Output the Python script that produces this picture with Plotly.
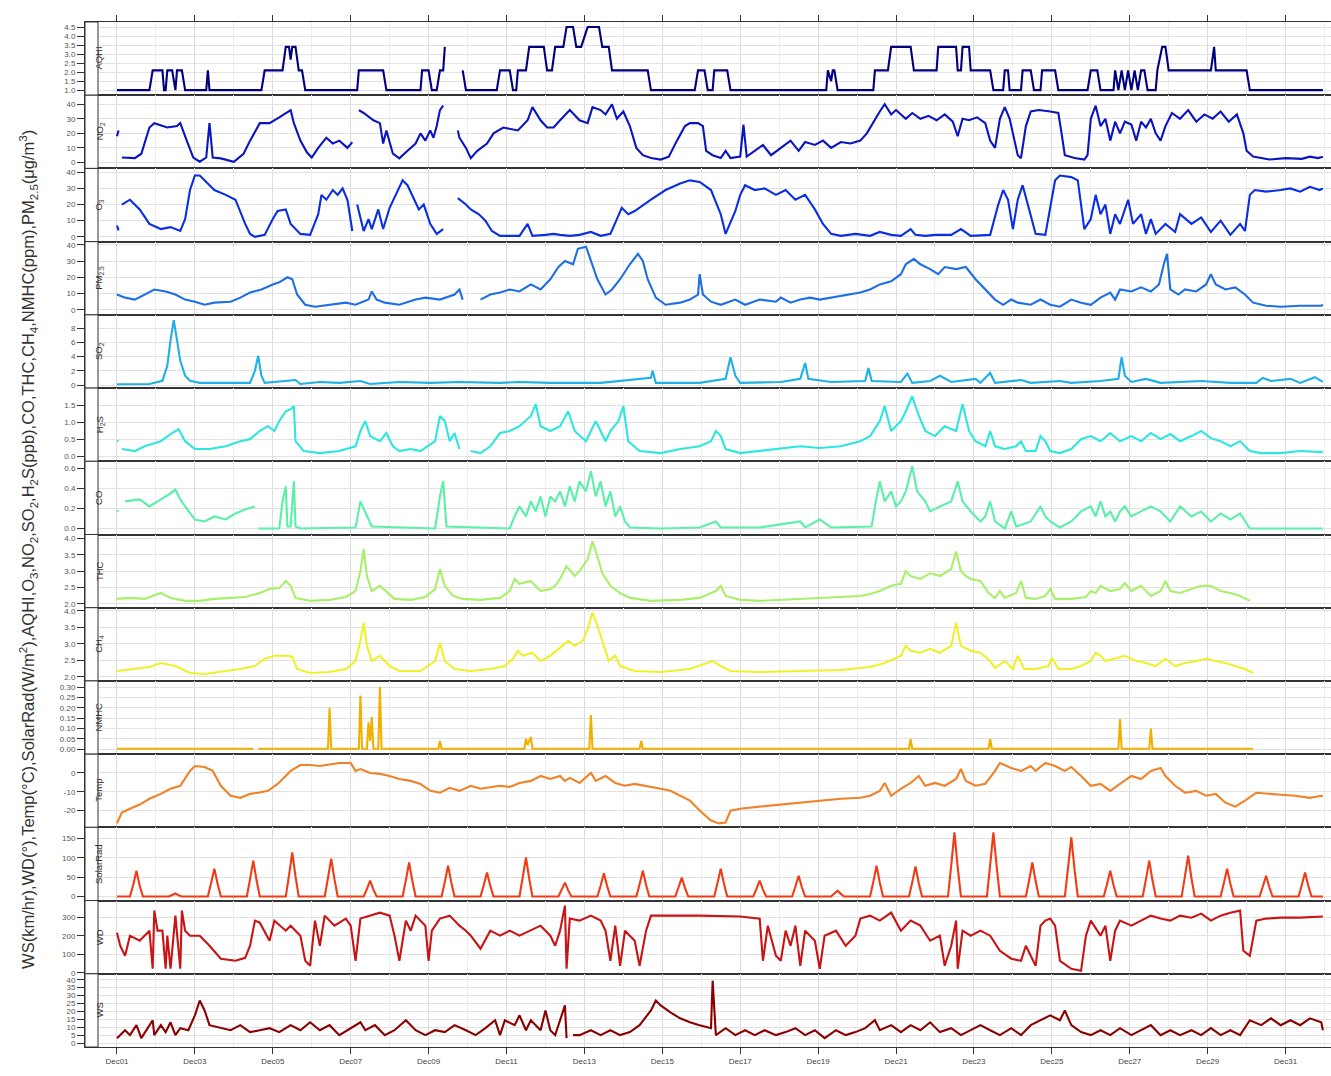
import pandas as pd
import plotly.graph_objects as go
from plotly.subplots import make_subplots

START = pd.Timestamp("2012-12-01 00:00")

# ---- data: (hour since Dec01 00:00, value); None = missing ----
aqhi = [(0,1),(20,1),(22,2.1),(28,2.1),(29,1),(30,1),(31,2.1),(34,2.1),(36,1),(37,2.1),(40,2.1),(42,1),(55,1),(56,2.1),(57,1),
        (89,1),(91,2.1),(102,2.1),(104,3.4),(106,3.4),(107,2.7),(108,3.4),(110,3.4),(112,2.1),(114,2.1),(116,1),(148,1),(149,2.1),
        (164,2.1),(166,1),(187,1),(188,2.1),(192,2.1),(194,1),(197,1),(199,2.1),(201,2.1),(202,3.4),(205,None),(213,2.1),(215,1),
        (234,1),(236,2.1),(242,2.1),(244,1),(246,1),(247,2.1),(252,2.1),(254,3.4),(263,3.4),(265,2.1),(268,2.1),(270,3.4),(275,3.4),
        (277,4.5),(281,4.5),(283,3.4),(286,3.4),(290,4.5),(297,4.5),(299,3.4),(303,3.4),(305,2.1),(327,2.1),(329,1),(356,1),(358,2.1),
        (362,2.1),(364,1),(367,1),(368,2.1),(376,2.1),(378,1),(437,1),(438,2.1),(440,1.5),(441,2.1),(442,2.1),(444,1),(466,1),(467,2.1),
        (475,2.1),(477,3.4),(489,3.4),(491,2.1),(505,2.1),(506,3.4),(517,3.4),(518,2.1),(520,2.1),(521,3.4),(525,3.4),(526,2.1),(538,2.1),
        (540,1),(546,1),(547,2.1),(549,2.1),(550,1),(557,1),(558,2.1),(563,2.1),(565,1),(569,1),(570,2.1),(578,2.1),(580,1),(598,1),
        (600,2.1),(604,2.1),(606,1),(614,1),(615,2.1),(617,1),(619,2.1),(621,1),(623,2.1),(625,1),(627,2.1),(629,1),(631,2.1),(633,2.1),
        (635,1),(640,1),(641,2.1),(644,3.4),(646,3.4),(648,2.1),(674,2.1),(676,3.4),(677,2.1),(696,2.1),(698,1),(743,1)]

no2 = [(0,18),(1,22),(2,None),(3,3.4),(11,3),(15,6),(17,13),(20,24),(23,27),(31,24),(37,25),(39,27),(43,15),(47,3.4),(51,0.5),(55,3.4),
       (57,27),(59,3.4),(64,2.8),(72,0.5),(78,6),(82,15),(88,27),(94,27),(100,31),(107,36),(109,27),(113,15),(117,7),(120,3.4),(124,10),
       (129,17),(133,13),(137,15),(142,10),(145,14),(146,None),(149,36),(152,34),(158,29),(162,27),(164,13),(166,22),(170,6),(174,2.8),
       (179,8),(184,13),(187,20),(190,15),(193,22),(195,17),(197,25),(199,36),(201,39),(204,None),(210,22),(211,17),(215,10),(218,3),
       (222,8),(228,13),(232,20),(238,24),(247,22),(253,29),(256,38),(261,29),(265,24),(269,24),(273,29),(279,36),(285,29),(290,27),
       (293,38),(298,36),(301,33),(305,40),(308,30),(312,35),(316,25),(320,10),(324,5),(329,3),(335,2),(340,4),(345,15),(350,25),(353,27),
       (358,27),(361,25),(363,8),(367,5),(372,3),(375,8),(378,3),(384,4),(386,26),(388,4),(393,8),(398,12),(403,5),(409,10),(415,15),
       (420,8),(424,14),(430,12),(435,15),(440,10),(446,14),(452,13),(458,15),(462,20),(466,28),(470,35),(473,40),(477,33),(480,36),
       (486,30),(490,34),(495,30),(500,32),(505,29),(510,33),(515,28),(518,18),(521,30),(525,29),(530,31),(535,27),(538,15),(541,10),
       (544,30),(547,38),(550,30),(552,20),(555,5),(557,3),(560,25),(563,35),(568,36),(575,35),(580,34),(582,20),(584,5),(590,3),(596,2),
       (598,5),(600,30),(603,39),(606,25),(609,30),(612,15),(615,28),(618,20),(621,28),(625,26),(628,15),(631,28),(634,24),(637,30),
       (640,20),(643,15),(646,25),(650,34),(655,30),(660,36),(665,28),(670,33),(675,30),(680,35),(685,28),(690,33),(694,20),(696,8),
       (700,4),(710,2),(720,3),(730,2.5),(735,4),(740,3),(743,4)]

o3 = [(0,7),(1,4),(2,None),(3,20),(8,23),(14,17),(20,8),(27,4.8),(33,6),(39,3.6),(42,11),(45,29),(48,38),(51,38),(54,35),(60,29),(67,26),
      (73,23),(79,8),(82,1.8),(85,0),(91,1.2),(96,11),(99,16),(104,17),(107,8),(113,1.8),(119,1.2),(124,14),(126,26),(129,23),(133,29),
      (136,26),(139,30),(142,23),(145,3.6),(146,None),(148,20),(152,3.6),(155,11),(157,4.8),(161,17),(164,4.8),(168,18),(173,29),(176,35),
      (179,32),(182,26),(186,17),(189,20),(193,8),(197,1.8),(201,4.8),(205,None),(210,24),(215,20),(218,17),(223,14),(227,10),(231,3.6),
      (236,0.6),(242,0.6),(248,0.6),(253,8),(256,0.6),(264,1.2),(269,1.8),(273,1.2),(279,0.6),(285,1.2),(292,3),(298,0.6),(304,1.8),
      (308,11),(311,18),(315,14),(319,16),(329,23),(338,29),(347,33),(353,35),(359,34),(366,29),(372,14),(375,1.8),(381,16),(384,26),
      (387,32),(393,29),(399,30),(406,26),(412,29),(418,23),(424,26),(430,17),(435,8),(440,1.8),(446,0.6),(455,1.8),(464,0.6),(470,3),
      (477,1.2),(483,0.6),(489,4.8),(492,1.2),(498,0.6),(504,1.2),(514,1.2),(520,4.8),(526,0.6),(538,1.2),(543,20),(546,29),(549,23),
      (552,4.8),(555,23),(558,32),(562,17),(566,1.8),(572,1.2),(578,35),(581,38),(588,37),(592,35),(596,4.8),(600,11),(603,26),(606,14),
      (609,20),(612,1.8),(615,14),(618,8),(623,23),(626,8),(631,14),(634,1.8),(637,11),(640,1.8),(646,8),(652,3),(655,14),(662,8),
      (668,12),(674,3),(680,10),(686,1.2),(692,8),(695,3.6),(698,26),(701,29),(708,28),(717,29),(723,30),(729,28),(735,31),(741,29),(743,30)]

pm25 = [(0,9.4),(5,7.5),(11,6.3),(17,9.4),(23,12.5),(30,11.3),(36,9.4),(42,6.3),(48,5),(54,3.1),(60,4.4),(70,5),(76,7.5),(82,10.6),
        (89,12.5),(96,15.6),(100,16.9),(105,20),(108,18.8),(111,9.4),(116,3.1),(122,1.9),(131,3.1),(141,4.4),(147,3.1),(155,6.3),
        (157,11.3),(160,6.3),(165,4.4),(174,3.1),(184,6.3),(190,7.5),(199,6.3),(208,9.4),(211,12.5),(213,6.3),(216,None),(224,6.3),
        (230,9.4),(236,10.6),(242,12.5),(248,11.3),(255,15.6),(261,12.5),(267,18.8),(272,26.3),(276,30),(281,28),(284,37.5),(289,38.8),
        (292,30),(296,18.8),(301,9.4),(305,12.5),(310,18.8),(316,28),(321,34.4),(324,30),(327,18.8),(332,7.5),(338,3.1),(347,4.4),
        (353,6.3),(358,9.4),(359,21.9),(361,9.4),(366,5),(372,3.1),(381,6.3),(387,3.1),(396,6.3),(406,5),(409,7.5),(415,4.4),(421,6.3),
        (427,7.5),(433,6.3),(440,7.5),(446,8.8),(452,10),(458,10.6),(464,12.5),(470,15.6),(477,17.5),(483,21.9),(486,28),(491,31.3),
        (495,28),(501,25),(506,21.9),(510,26.3),(517,25),(523,26.3),(529,18.8),(535,12.5),(541,6.3),(546,3.1),(551,6.3),(555,4.4),
        (563,3.1),(569,6.3),(575,3.1),(581,1.9),(588,6.3),(594,4.4),(600,3.1),(606,7.5),(612,10.6),(615,6.3),(618,12.5),(625,11.3),
        (631,13.8),(637,11.3),(642,15.6),(645,28),(647,34.4),(649,12.5),(654,9.4),(658,12.5),(665,11.3),(671,15.6),(674,21.9),
        (677,15.6),(683,12.5),(689,13.8),(695,9.4),(700,4.4),(708,2.5),(717,1.9),(729,2.5),(742,2.5),(743,3.1)]

so2 = [(0,0.1),(20,0.15),(28,0.6),(31,2.7),(33,6.3),(35,9.1),(37,6.3),(39,3.4),(42,1.3),(45,0.6),(51,0.3),(82,0.3),(85,2),(87,4.1),
       (89,1.3),(91,0.3),(110,0.7),(113,0.14),(125,0.43),(137,0.3),(150,0.57),(156,0.14),(174,0.43),(193,0.3),(211,0.43),(236,0.3),
       (248,0.43),(267,0.3),(298,0.3),(329,1),(330,2),(332,0.3),(359,0.3),(375,0.86),(378,3.9),(381,1.3),(384,0.3),(409,0.43),(421,0.86),
       (424,3.1),(426,0.86),(440,0.43),(461,0.57),(463,2.4),(465,0.57),(483,0.43),(487,1.6),(490,0.3),(501,0.57),(507,1.3),(514,0.43),
       (529,0.86),(532,0.3),(538,1.7),(541,0.3),(557,0.7),(563,0.3),(581,0.57),(588,0.3),(606,0.57),(617,0.86),(619,3.9),(621,1.3),
       (625,0.43),(634,0.86),(643,0.3),(668,0.57),(686,0.3),(702,0.3),(706,1),(711,0.57),(723,0.86),(729,0.3),(738,1.1),(743,0.43)]

h2s = [(0,0.44),(1,0.45),(2,None),(3,0.21),(11,0.15),(17,0.29),(27,0.44),(34,0.68),(38,0.79),(42,0.44),(48,0.21),(57,0.21),(67,0.29),
       (76,0.44),(82,0.5),(88,0.74),(93,0.88),(97,0.74),(100,1.03),(104,1.32),(107,1.38),(109,1.47),(110,0.44),(115,0.15),(125,0.09),
       (137,0.15),(147,0.29),(150,0.74),(153,1.03),(156,0.59),(162,0.44),(166,0.68),(170,0.29),(174,0.15),(181,0.21),(187,0.15),
       (196,0.44),(199,1.18),(202,1.03),(205,0.44),(208,0.68),(211,0.21),(215,None),(218,0.15),(224,0.09),(230,0.29),(236,0.68),
       (242,0.74),(248,0.88),(255,1.18),(258,1.53),(261,0.88),(267,0.74),(273,0.88),(278,1.32),(282,0.74),(289,0.44),(292,0.74),
       (295,1.03),(298,0.74),(301,0.44),(304,0.74),(309,1.03),(312,1.47),(315,0.44),(322,0.15),(335,0.09),(347,0.21),(359,0.29),
       (366,0.44),(369,0.74),(372,0.59),(375,0.21),(384,0.09),(396,0.15),(409,0.21),(421,0.29),(433,0.24),(446,0.29),(458,0.44),
       (464,0.59),(470,1.03),(473,1.47),(477,0.74),(483,1.03),(486,1.32),(490,1.76),(493,1.32),(498,0.74),(504,0.59),(510,0.88),
       (517,0.74),(521,1.53),(525,0.74),(529,0.44),(535,0.29),(538,0.74),(541,0.29),(547,0.21),(554,0.29),(557,0.44),(560,0.15),
       (566,0.15),(569,0.59),(572,0.44),(575,0.15),(581,0.09),(588,0.21),(594,0.5),(600,0.59),(606,0.44),(612,0.68),(618,0.44),
       (625,0.59),(631,0.44),(637,0.68),(643,0.5),(649,0.65),(655,0.44),(662,0.59),(668,0.74),(674,0.53),(680,0.44),(686,0.29),
       (692,0.44),(698,0.15),(705,0.09),(717,0.09),(729,0.15),(743,0.12)]

co = [(0,0.17),(1,0.18),(2,None),(5,0.27),(14,0.29),(20,0.22),(27,0.29),(33,0.35),(36,0.39),(39,0.29),(42,0.22),(48,0.09),(54,0.07),
      (60,0.12),(67,0.09),(73,0.15),(79,0.19),(85,0.22),(86,None),(87,0.0),(100,0.0),(102,0.27),(104,0.42),(105,0.02),(107,0.02),
      (109,0.47),(110,0.02),(113,0.0),(147,0.01),(150,0.27),(153,0.17),(157,0.02),(196,0.0),(199,0.32),(201,0.47),(203,0.02),(242,0.0),
      (245,0.12),(248,0.22),(252,0.12),(255,0.27),(258,0.17),(261,0.32),(264,0.12),(267,0.32),(270,0.27),(273,0.37),(276,0.22),
      (279,0.42),(282,0.27),(285,0.47),(289,0.37),(292,0.57),(295,0.32),(298,0.47),(301,0.22),(304,0.37),(307,0.12),(310,0.22),
      (313,0.07),(316,0.01),(335,0.0),(359,0.01),(369,0.07),(372,0.01),(396,0.01),(421,0.07),(424,0.01),(433,0.09),(440,0.01),
      (465,0.02),(467,0.22),(470,0.47),(473,0.27),(477,0.37),(480,0.22),(483,0.27),(486,0.37),(490,0.62),(493,0.37),(498,0.27),
      (501,0.17),(507,0.22),(514,0.27),(518,0.47),(521,0.27),(526,0.17),(532,0.07),(535,0.12),(538,0.27),(541,0.07),(547,0.0),
      (551,0.17),(554,0.02),(563,0.07),(569,0.22),(572,0.12),(575,0.07),(581,0.01),(588,0.07),(594,0.17),(600,0.22),(603,0.12),
      (606,0.27),(609,0.12),(612,0.17),(615,0.07),(618,0.17),(621,0.22),(625,0.12),(631,0.17),(637,0.22),(643,0.17),(649,0.07),
      (655,0.22),(662,0.12),(668,0.17),(674,0.07),(680,0.15),(686,0.09),(692,0.15),(695,0.07),(698,0.0),(743,0.0)]

thc = [(0,2.15),(8,2.18),(17,2.15),(23,2.27),(27,2.33),(33,2.18),(42,2.09),(51,2.09),(60,2.15),(70,2.18),(79,2.21),(88,2.33),(94,2.45),
       (100,2.48),(104,2.7),(107,2.55),(110,2.18),(119,2.09),(131,2.12),(141,2.21),(147,2.39),(150,3.0),(152,3.67),(154,2.85),(157,2.39),
       (162,2.55),(167,2.33),(171,2.15),(181,2.12),(190,2.21),(196,2.45),(199,3.06),(202,2.55),(207,2.24),(213,2.15),(224,2.12),
       (236,2.18),(242,2.39),(245,2.76),(248,2.61),(255,2.7),(261,2.39),(267,2.45),(270,2.55),(273,2.76),(277,3.15),(282,2.85),(285,3.0),
       (290,3.36),(293,3.91),(296,3.45),(299,2.94),(304,2.55),(310,2.33),(316,2.18),(329,2.09),(347,2.12),(359,2.18),(369,2.39),
       (372,2.55),(375,2.24),(384,2.12),(396,2.09),(409,2.12),(421,2.15),(433,2.18),(446,2.21),(458,2.24),(464,2.3),(470,2.39),
       (477,2.55),(483,2.61),(486,3.0),(489,2.85),(495,2.76),(501,2.94),(507,2.85),(514,3.06),(517,3.6),(520,3.0),(523,2.85),(526,2.76),
       (532,2.7),(537,2.33),(541,2.18),(544,2.39),(547,2.18),(554,2.33),(557,2.7),(560,2.18),(566,2.15),(572,2.24),(575,2.45),
       (578,2.15),(588,2.15),(597,2.21),(600,2.39),(603,2.33),(606,2.55),(612,2.39),(618,2.45),(621,2.64),(625,2.39),(631,2.55),
       (637,2.24),(643,2.39),(646,2.7),(649,2.39),(655,2.33),(662,2.45),(668,2.55),(674,2.55),(680,2.39),(686,2.33),(692,2.24),(698,2.09)]

ch4 = [(0,2.18),(11,2.24),(20,2.3),(27,2.42),(36,2.33),(45,2.12),(54,2.09),(67,2.18),(76,2.24),(85,2.33),(91,2.55),(97,2.64),(104,2.64),
       (108,2.61),(111,2.24),(119,2.12),(131,2.15),(141,2.24),(147,2.48),(150,3.09),(152,3.64),(154,2.94),(157,2.48),(162,2.64),
       (168,2.33),(174,2.18),(187,2.18),(196,2.48),(199,3.03),(202,2.48),(208,2.24),(218,2.18),(230,2.24),(239,2.33),(244,2.55),
       (247,2.79),(250,2.64),(256,2.73),(261,2.48),(267,2.64),(274,2.94),(278,3.09),(282,2.94),(287,3.09),(290,3.45),(293,3.94),
       (296,3.55),(300,2.94),(303,2.48),(307,2.64),(310,2.33),(319,2.18),(335,2.15),(353,2.24),(362,2.39),(367,2.48),(372,2.33),
       (378,2.18),(396,2.15),(421,2.18),(446,2.21),(464,2.3),(473,2.42),(483,2.64),(486,2.94),(489,2.79),(495,2.73),(501,2.85),
       (507,2.73),(514,2.94),(517,3.64),(520,2.94),(526,2.79),(532,2.73),(538,2.48),(541,2.27),(547,2.48),(552,2.24),(555,2.64),
       (559,2.24),(566,2.24),(574,2.33),(576,2.58),(580,2.24),(588,2.24),(594,2.33),(600,2.48),(603,2.73),(606,2.64),(609,2.48),
       (615,2.55),(621,2.64),(628,2.48),(634,2.42),(640,2.33),(646,2.55),(652,2.33),(658,2.42),(665,2.48),(671,2.55),(677,2.48),
       (683,2.42),(689,2.33),(695,2.24),(700,2.12)]

nmhc = [(0,0.002),(84,0.002),(85,None),(87,0.002),(130,0.002),(131,0.2),(132,0.002),(149,0.002),(150,0.26),(151,0.002),(154,0.002),
        (155,0.13),(156,0.04),(157,0.155),(158,0.002),(161,0.002),(162,0.30),(163,0.002),(198,0.002),(199,0.04),(200,0.002),(251,0.002),
        (252,0.05),(253,0.02),(255,0.06),(256,0.002),(291,0.002),(292,0.165),(293,0.002),(322,0.002),(323,0.04),(324,0.002),(488,0.002),
        (489,0.05),(490,0.002),(537,0.002),(538,0.05),(539,0.002),(617,0.002),(618,0.145),(619,0.002),(636,0.002),(637,0.1),(638,0.002),
        (700,0.002)]

temp = [(0,-26.8),(3,-21),(8,-19),(14,-16.8),(20,-13.7),(27,-11.1),(33,-8.4),(39,-6.8),(45,1.1),(48,3.7),(54,3.2),(59,1.1),(64,-6.8),
        (70,-12.1),(76,-13.2),(82,-11.1),(87,-10.5),(93,-9.5),(99,-5.8),(107,1.1),(113,4.2),(119,4.2),(125,3.7),(131,4.7),(137,5.3),
        (144,5.3),(147,1.1),(150,2.1),(156,0),(162,-0.5),(168,-1.6),(174,-3.2),(181,-4.2),(187,-5.8),(193,-9.5),(199,-10.5),(205,-7.9),
        (211,-9.5),(218,-6.8),(224,-8.4),(230,-7.4),(236,-6.8),(242,-7.4),(248,-5.3),(255,-4.2),(261,-1.6),(267,-3.2),(273,-1.6),
        (276,-4.2),(279,-2.6),(285,-5.3),(292,0),(295,-4.2),(301,-1.6),(307,-5.3),(313,-6.8),(319,-5.8),(326,-6.8),(335,-8.4),
        (341,-9.5),(347,-12.1),(353,-14.7),(359,-20),(366,-25.3),(371,-26.8),(375,-26.3),(378,-20),(384,-19),(396,-17.9),(409,-16.8),
        (421,-15.8),(433,-14.7),(446,-13.7),(458,-13.2),(464,-12.1),(470,-9.5),(473,-5.3),(477,-12.1),(483,-8.4),(489,-5.3),(494,-1.6),
        (498,-6.8),(504,-5.3),(510,-6.8),(517,-3.2),(520,2.1),(523,-4.2),(529,-6.8),(535,-5.8),(541,1.1),(544,5.3),(551,2.6),(557,1.1),
        (563,3.7),(566,1.1),(572,5.3),(578,3.7),(584,1.1),(588,3.2),(594,-1.6),(600,-6.8),(606,-5.8),(612,-9.5),(618,-5.8),(625,-1.6),
        (631,-3.2),(637,1.1),(643,2.6),(646,-1.6),(652,-6.8),(658,-10.5),(665,-9.5),(671,-12.1),(677,-11.1),(683,-15.8),(689,-17.9),
        (695,-14.7),(702,-10.5),(708,-11.1),(717,-11.6),(726,-12.1),(735,-13.2),(742,-12.1),(743,-12.6)]

# solar radiation: daily readings at 10h, 12h, 14h (zero overnight, 8h and 16h)
solar_am   = [30, 4, 35, 45, 55, 48, 20, 42, 38, 30, 50, 18, 28, 32, 24, 35, 20, 26, 8, 38, 37, 80, 82, 42, 75, 32, 45, 52, 35, 26, 30]
solar_noon = [67, 8, 72, 93, 114, 98, 41, 88, 80, 62, 101, 36, 60, 67, 49, 72, 41, 54, 15, 80, 78, 166, 166, 88, 153, 67, 93, 106, 72, 54, 62]
solar_pm   = [28, 3, 33, 42, 52, 45, 18, 40, 36, 28, 46, 16, 27, 30, 22, 33, 18, 24, 7, 36, 35, 76, 78, 40, 70, 30, 42, 48, 33, 24, 28]

wd = [(0,216),(2,146),(5,92),(8,200),(14,173),(20,227),(22,22),(23,335),(25,227),(28,227),(30,22),(31,200),(33,22),(36,308),(39,22),
      (40,335),(42,227),(45,200),(51,200),(57,146),(64,76),(73,65),(79,81),(82,146),(85,281),(88,270),(94,173),(97,281),(104,227),
      (107,254),(113,200),(116,65),(119,38),(122,281),(125,146),(128,308),(134,254),(141,292),(144,254),(147,65),(150,292),(156,308),
      (162,324),(168,308),(171,200),(174,65),(178,281),(181,227),(184,308),(190,254),(192,65),(194,227),(199,292),(205,308),(211,254),
      (215,227),(218,200),(224,130),(230,227),(236,200),(242,227),(248,200),(255,227),(261,254),(267,200),(270,146),(273,227),(276,362),
      (277,22),(279,292),(285,281),(292,308),(298,281),(301,227),(304,65),(307,254),(310,38),(313,227),(319,173),(322,38),(326,227),
      (329,308),(335,308),(359,308),(384,303),(396,292),(398,65),(401,254),(406,92),(409,65),(412,227),(415,146),(418,254),(421,38),
      (424,227),(430,173),(433,22),(436,200),(443,227),(449,146),(455,200),(458,292),(464,308),(470,281),(477,324),(483,227),(489,281),
      (495,254),(501,173),(507,200),(510,38),(514,146),(517,281),(518,22),(521,227),(526,200),(532,227),(538,200),(544,119),(551,76),
      (557,65),(560,146),(563,92),(566,38),(569,254),(572,281),(575,292),(578,254),(581,65),(588,22),(594,11),(597,200),(600,281),
      (606,200),(609,254),(612,65),(615,227),(618,281),(625,254),(631,281),(637,308),(643,292),(649,281),(655,308),(662,297),(668,319),
      (674,281),(680,308),(686,324),(692,335),(694,119),(698,92),(702,281),(708,292),(717,297),(729,297),(742,303),(743,303)]

ws = [(0,3.1),(5,8.1),(8,5),(12,11.3),(15,3.1),(18,8.1),(22,14.4),(23,5),(27,11.3),(30,6.9),(33,13.1),(36,5),(39,9.4),(44,8.1),(48,17.5),
      (51,26.9),(54,20.6),(57,11.3),(64,9.4),(70,8.1),(76,11.3),(82,6.9),(88,8.1),(94,9.4),(100,6.9),(107,11.3),(113,8.1),(119,13.1),
      (125,8.1),(131,11.3),(137,5),(144,9.4),(150,13.1),(153,8.1),(159,11.3),(165,5),(171,8.1),(178,14.4),(184,8.1),(190,5),(196,8.1),
      (202,6.9),(208,11.3),(215,8.1),(221,5),(227,9.4),(233,14.4),(236,5),(239,14.4),(245,11.3),(248,17.5),(252,8.1),(255,14.4),
      (261,8.1),(264,20.6),(267,8.1),(270,5),(273,14.4),(276,23.8),(277,3.1),(279,None),(281,5),(285,5),(292,8.1),(298,5),(304,8.1),
      (310,5),(316,6.9),(322,11.3),(329,20.6),(332,26.9),(335,23.8),(341,19.4),(347,15.6),(353,13.1),(359,11.3),(366,9.4),(367,39.4),
      (369,5),(375,9.4),(381,5),(387,8.1),(393,5),(399,8.1),(406,5),(412,6.9),(418,9.4),(424,5),(430,8.1),(436,3.1),(443,8.1),(449,5),
      (455,6.9),(461,9.4),(467,14.4),(470,8.1),(477,11.3),(483,6.9),(489,11.3),(495,8.1),(501,13.1),(507,6.9),(514,9.4),(520,5),
      (526,8.1),(532,11.3),(538,8.1),(544,5),(551,9.4),(557,5),(563,11.3),(569,14.4),(575,17.5),(581,14.4),(584,20.6),(588,11.3),
      (594,6.9),(600,5),(606,8.1),(612,5),(618,9.4),(625,5),(631,8.1),(637,11.3),(643,5),(649,8.1),(655,5),(662,8.1),(668,5),(674,9.4),
      (680,5),(686,8.1),(692,5),(698,14.4),(705,11.3),(711,15.6),(717,11.3),(723,14.4),(729,11.3),(735,15.6),(742,13.1),(743,8.1)]

solar = []
for d in range(len(solar_noon)):
    solar += [(24*d, 0), (24*d+8, 0), (24*d+10, solar_am[d]), (24*d+12, solar_noon[d]),
              (24*d+14, solar_pm[d]), (24*d+16, 0)]
solar.append((743, 0))

strip_labels = ["AQHI", "NO<sub>2</sub>", "O<sub>3</sub>", "PM<sub>2.5</sub>", "SO<sub>2</sub>", "H<sub>2</sub>S", "CO",
                "THC", "CH<sub>4</sub>", "NMHC", "Temp", "SolarRad", "WD", "WS"]
series = [aqhi, no2, o3, pm25, so2, h2s, co, thc, ch4, nmhc, temp, solar, wd, ws]
colors = ["#00007f", "#0a14c0", "#0a2ee0", "#1e6ee6", "#1eb0e6", "#2ee6e0", "#5af0a8", "#a8f06a",
          "#f0f02a", "#f0b000", "#f08228", "#f03c14", "#c81414", "#8b0000"]
y_ranges = [[0.72, 4.78], [-4.1, 46.2], [-3.0, 42.4], [-3.1, 41.9], [-0.43, 9.86], [-0.15, 2.0], [-0.06, 0.67],
            [1.88, 4.12], [1.88, 4.09], [-0.024, 0.33], [-28.9, 10], [-10.4, 179], [-5, 389], [-2.5, 43.75]]
y_ticks = [[1.0, 1.5, 2.0, 2.5, 3.0, 3.5, 4.0, 4.5], [0, 10, 20, 30, 40], [0, 10, 20, 30, 40], [0, 10, 20, 30, 40],
           [0, 2, 4, 6, 8], [0.0, 0.5, 1.0, 1.5], [0.0, 0.2, 0.4, 0.6], [2.0, 2.5, 3.0, 3.5, 4.0],
           [2.0, 2.5, 3.0, 3.5, 4.0], [0.0, 0.05, 0.10, 0.15, 0.20, 0.25, 0.30], [-20, -10, 0],
           [0, 50, 100, 150], [0, 100, 200, 300], [0, 5, 10, 15, 20, 25, 30, 35, 40]]
y_fmt = [".1f", "d", "d", "d", "d", ".1f", ".1f", ".1f", ".1f", ".2f", "d", "d", "d", "d"]

y_title = ("WS(km/hr),WD(°),Temp(°C),SolarRad(W/m<sup>2</sup>),AQHI,O<sub>3</sub>,NO<sub>2</sub>,SO<sub>2</sub>,"
           "H<sub>2</sub>S(ppb),CO,THC,CH<sub>4</sub>,NMHC(ppm),PM<sub>2.5</sub>(μg/m<sup>3</sup>)")

# ---- figure ----
W, H = 1331, 1076
ML, MR, MT, MB = 85, 0, 22, 29
n = len(series)
fig = make_subplots(rows=n, cols=1, shared_xaxes=True, vertical_spacing=0)

for i, (pts, col) in enumerate(zip(series, colors)):
    xs = [START + pd.Timedelta(hours=h) for h, v in pts]
    ys = [v for h, v in pts]
    fig.add_trace(go.Scatter(x=xs, y=ys, mode="lines", line=dict(color=col, width=2.1),
                             connectgaps=False, showlegend=False, hoverinfo="x+y"), row=i + 1, col=1)

FONT = "Liberation Sans, Arial, sans-serif"
x0 = START - pd.Timedelta(hours=19.7)
x1 = START + pd.Timedelta(hours=748)
for i in range(n):
    fig.update_xaxes(row=i + 1, col=1, range=[x0, x1], type="date",
                     tick0=START, dtick=2 * 86400000, tickformat="%b%d",
                     showgrid=True, gridcolor="#dcdcdc", gridwidth=1,
                     minor=dict(dtick=86400000, showgrid=True, gridcolor="#eeeeee"),
                     showline=True, linecolor="#333333", linewidth=1, mirror=True,
                     zeroline=False, ticks="", tickfont=dict(family=FONT, size=8, color="#444444"))
    fig.update_yaxes(row=i + 1, col=1, range=y_ranges[i], tickmode="array", tickvals=y_ticks[i],
                     ticktext=[format(v, y_fmt[i]) if y_fmt[i] != "d" else str(int(v)) for v in y_ticks[i]],
                     showgrid=True, gridcolor="#e2e2e2", zeroline=False,
                     showline=True, linecolor="#333333", linewidth=1, mirror=True,
                     ticks="outside", ticklen=7, tickcolor="#333333",
                     tickfont=dict(family=FONT, size=8, color="#555555"))

fig.update_xaxes(row=n, col=1, ticks="outside", ticklen=6, tickcolor="#333333", showticklabels=True)
fig.update_xaxes(row=1, col=1, side="top", ticks="outside", ticklen=6, tickcolor="#333333", showticklabels=False)

plot_w = W - ML - MR
strip_w = 13.0 / plot_w
for i in range(n):
    yref = "y domain" if i == 0 else f"y{i + 1} domain"
    fig.add_shape(type="rect", xref="paper", yref=yref, x0=0, x1=strip_w, y0=0, y1=1,
                  fillcolor="#ffffff", line=dict(color="#333333", width=1), layer="above")
    fig.add_annotation(xref="paper", yref=yref, x=strip_w / 2, y=0.5, text=strip_labels[i],
                       textangle=-90, showarrow=False, font=dict(family=FONT, size=9.5, color="#333333"))

fig.add_annotation(xref="paper", yref="paper", x=(15 - ML) / plot_w, y=0.485, text=y_title,
                   textangle=-90, showarrow=False, font=dict(family=FONT, size=16.5, color="#333333"))

fig.update_layout(width=W, height=H, margin=dict(l=ML, r=MR, t=MT, b=MB),
                  plot_bgcolor="#ffffff", paper_bgcolor="#ffffff", showlegend=False)

fig.write_html("out.html", config={"displayModeBar": False},
               post_script="document.body.style.margin='0';")
